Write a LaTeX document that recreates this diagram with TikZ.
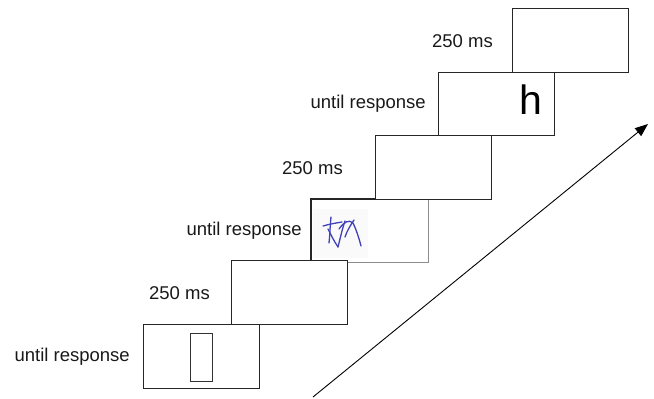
\documentclass[tikz,border=0pt]{standalone}
\usepackage{fontspec}
\setmainfont{Liberation Sans}
\usetikzlibrary{arrows.meta,calc}
\begin{document}
\begin{tikzpicture}[x=1pt,y=-1pt,
  screen/.style={draw=black!85,line width=1.4pt,fill=white,anchor=north west,inner sep=0pt,minimum width=116pt,minimum height=64pt},
  lbl/.style={anchor=east,inner sep=0pt,font=\fontsize{18.5}{20}\selectfont,text=black!90},
  scrib/.style={draw={rgb,255:red,65;green,65;blue,185},line width=1.3pt,line cap=round,line join=round}]
\useasboundingbox (0,0) rectangle (654,399);
% screens
\node[screen] (b1) at (143,324) {};
\node[screen,draw=black!45,line width=1pt,minimum height=63pt,minimum width=117pt] (b3) at (311,199) {};
\draw[black!85,line width=1.4pt] (b3.south west) -- (b3.north west) -- (b3.north east);
\node[screen] (b2) at (231,260) {};
\node[screen] (b4) at (375,135) {};
\node[screen,minimum height=63pt] (b5) at (438,72) {};
\node[screen] (b6) at (512,8) {};
% labels
\node[lbl] (l1) at ($(b1.west)+(-13,0)$) {until response};
\node[lbl] (l2) at ($(b2.west)+(-21,0)$) {250 ms};
\node[lbl] (l3) at ($(b3.west)+(-9,0)$) {until response};
\node[lbl] (l4) at ($(b4.west)+(-32,0)$) {250 ms};
\node[lbl] (l5) at ($(b5.west)+(-12,0)$) {until response};
\node[lbl] (l6) at ($(b6.west)+(-19,0)$) {250 ms};
% stimulus in b1: empty rectangle
\node[draw=black!80,line width=1pt,minimum width=22pt,minimum height=48pt,inner sep=0pt] (rect) at ($(b1.center)+(0,1)$) {};
% stimulus in b3: scribble
\fill[black!2] (313,209) rectangle (368,258);
\draw[scrib] (331,217) .. controls (330,226) and (330,234) .. (329,243);
\draw[scrib] (323,226) .. controls (330,224) and (336,223) .. (342,222);
\draw[scrib] (328,229) .. controls (331,235) and (334,241) .. (338,247);
\draw[scrib] (338,247) .. controls (340,239) and (342,230) .. (345,221);
\draw[scrib] (339,229) .. controls (344,222) and (349,219) .. (353,223) .. controls (356,229) and (359,238) .. (361,246);
\draw[scrib] (345,237) .. controls (347,231) and (350,226) .. (354,220);
% stimulus in b5: letter
\node[anchor=base west,inner sep=0pt,font=\fontsize{41}{41}\selectfont] (h) at (519,114) {h};
% time arrow
\coordinate (a0) at (313,397);
\coordinate (a1) at (648,124);
\draw[line width=0.9pt,-{Triangle[length=13pt,width=10pt]}] (a0) -- (a1);
\end{tikzpicture}
\end{document}
